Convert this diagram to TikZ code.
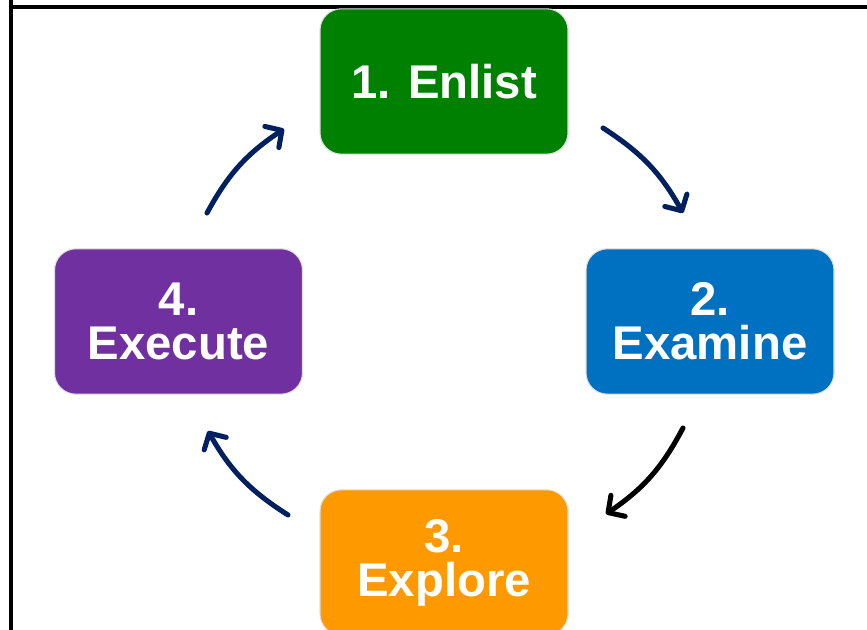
\documentclass[tikz,border=0pt]{standalone}
\usepackage{fontspec}
\setmainfont{Liberation Sans}
\usetikzlibrary{arrows.meta}
\definecolor{stepgreen}{RGB}{0,128,0}
\definecolor{stepblue}{RGB}{0,112,192}
\definecolor{steporange}{RGB}{255,153,0}
\definecolor{steppurple}{RGB}{112,48,160}
\definecolor{navy}{RGB}{0,32,96}
\begin{document}
\begin{tikzpicture}[x=0.75pt,y=0.75pt,
  stepbox/.style={rounded corners=16pt, draw=gray!25, line width=0.8pt,
    minimum width=186pt, minimum height=109pt, inner sep=0pt,
    text=white, align=center,
    font=\bfseries\fontsize{35.5}{33}\selectfont},
  cyclearrow/.style={line width=3.8pt, line cap=round,
    -{Straight Barb[length=9pt,width=19pt,line width=3.8pt,round]}, bend left=14}]
  \useasboundingbox (0,0) rectangle (867,630);
  % outer frame
  \draw[line width=2.4pt] (11,640) -- (11,623) -- (880,623);
  \draw[line width=2.4pt] (11,623) -- (11,-10);
  % the four stages
  \node[stepbox, fill=stepgreen]  (enlist)  at (444,548.5) {1. Enlist};
  \node[stepbox, fill=stepblue]   (examine) at (710,308.5) {2.\\Examine};
  \node[stepbox, fill=steporange] (explore) at (444,67.5)  {3.\\Explore};
  \node[stepbox, fill=steppurple] (execute) at (178.5,308.5) {4.\\Execute};
  % arrow end points
  \coordinate (a1s) at (603,502); \coordinate (a1e) at (683,417);
  \coordinate (a2s) at (683,202); \coordinate (a2e) at (606,116);
  \coordinate (a3s) at (288,115); \coordinate (a3e) at (208,199);
  \coordinate (a4s) at (207,417); \coordinate (a4e) at (284,501);
  \draw[cyclearrow, navy]  (a1s) to (a1e);
  \draw[cyclearrow, black] (a2s) to (a2e);
  \draw[cyclearrow, navy]  (a3s) to (a3e);
  \draw[cyclearrow, navy]  (a4s) to (a4e);
\end{tikzpicture}
\end{document}
